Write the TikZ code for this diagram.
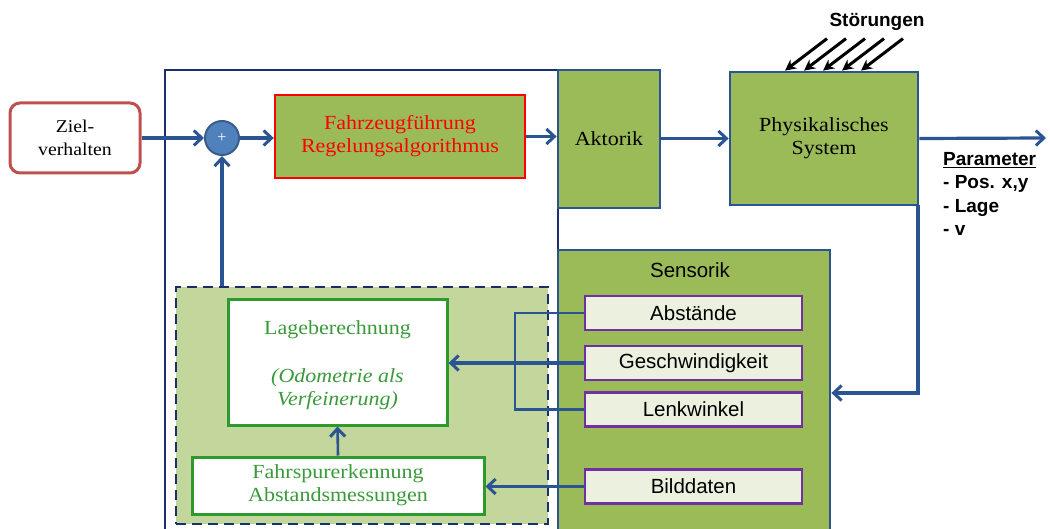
\documentclass[tikz,border=0pt]{standalone}
\usepackage{fontspec}
\setmainfont{Liberation Serif}
\newfontfamily\serifst[FakeStretch=1.1]{Liberation Serif}
\newfontfamily\sansf{Liberation Sans}
\usetikzlibrary{arrows.meta}
\definecolor{cline}{HTML}{2B5592}
\definecolor{navy}{HTML}{1A2F6B}
\definecolor{boxgreen}{HTML}{9BBB59}
\definecolor{lightgreen}{HTML}{C3D69B}
\definecolor{sensfill}{HTML}{EBF1DE}
\definecolor{purp}{HTML}{7030A0}
\definecolor{lgreen}{HTML}{2E9A2E}
\definecolor{ltext}{HTML}{3A9A3A}
\definecolor{zielred}{HTML}{C0504D}
\definecolor{circfill}{HTML}{4F81BD}
\definecolor{circdraw}{HTML}{385D8A}
\tikzset{
  conn/.style={draw=cline, line width=3.2pt, -{Straight Barb[length=8pt,width=15pt,line width=3pt]}},
  thinconn/.style={draw=cline, line width=2.6pt},
  greenbox/.style={draw=cline, line width=2.8pt, fill=boxgreen, inner sep=0pt, align=center, font=\serifst\fontsize{20}{23}\selectfont},
  sensbox/.style={draw=purp, line width=2.6pt, fill=sensfill, minimum width=217pt, minimum height=34pt, inner sep=0pt, font=\sansf\fontsize{20.5}{24}\selectfont},
  whitebox/.style={draw=lgreen, line width=3pt, fill=white, inner sep=0pt, align=center, text=ltext, font=\serifst\fontsize{20}{23}\selectfont},
  distarrow/.style={draw=black, line width=3pt, -{Stealth[length=11pt,width=11pt]}},
  boldlbl/.style={font=\sansf\bfseries\fontsize{19}{23.5}\selectfont, inner sep=0pt}
}
\begin{document}
\begin{tikzpicture}[x=1pt,y=-1pt]
\useasboundingbox (0,0) rectangle (1050,529);
\clip (0,0) rectangle (1050,529);
% outer frame
\draw[navy, line width=2.2pt] (558,70) -- (165,70) -- (165,560) -- (558,560) -- cycle;
% dashed area
\node[draw=navy, dash pattern=on 10pt off 6pt, line width=2.8pt, fill=lightgreen, minimum width=372pt, minimum height=237pt, inner sep=0pt] (dash) at (362,405.5) {};
% boxes
\node[draw=zielred, line width=3pt, rounded corners=10pt, fill=white, minimum width=130pt, minimum height=70pt, align=center, font=\serifst\fontsize{18}{23}\selectfont] (ziel) at (75,138) {Ziel-\\verhalten};
\node[circle, draw=circdraw, line width=2pt, fill=circfill, minimum size=34pt, inner sep=0pt, text=white, font=\fontsize{16}{16}\selectfont] (sum) at (222,138) {+};
\node[greenbox, draw=red, line width=2.4pt, text=red, minimum width=250pt, minimum height=83pt] (fz) at (400,136.5) {Fahrzeugführung\\Regelungsalgorithmus};
\node[greenbox, minimum width=102pt, minimum height=138pt] (akt) at (609,139) {Aktorik};
\node[greenbox, minimum width=188pt, minimum height=133pt] (phys) at (824,138.5) {Physikalisches\\System};
\node[greenbox, minimum width=272pt, minimum height=300pt] (sens) at (694,400) {};
\node[font=\sansf\fontsize{20.5}{24}\selectfont, inner sep=0pt] (senstitle) at (690,270) {Sensorik};
\node[sensbox] (abst) at (693.5,313) {Abstände};
\node[sensbox] (gesch) at (693.5,363) {Geschwindigkeit};
\node[sensbox] (lenk) at (693.5,409.5) {Lenkwinkel};
\node[sensbox] (bild) at (693.5,486.5) {Bilddaten};
\node[whitebox, minimum width=219pt, minimum height=125pt] (lage) at (337.5,362.5) {};
\node[text=ltext, font=\serifst\fontsize{20}{23}\selectfont, inner sep=0pt] (lagetxt) at (337.5,330) {Lageberechnung};
\node[text=ltext, font=\serifst\itshape\fontsize{20}{23}\selectfont, inner sep=0pt, align=center] (odo) at (337.5,389) {(Odometrie als\\Verfeinerung)};
\node[whitebox, minimum width=292pt, minimum height=57pt] (fahr) at (338,485.5) {Fahrspurerkennung\\Abstandsmessungen};
% labels
\node[boldlbl] (stoer) at (877,22) {Störungen};
\node[boldlbl, anchor=north west, align=left] (param) at (943,152) {\underline{Parameter}\\- Pos. x,y\\- Lage\\- v};
% coordinates
\coordinate (out) at (1046,138);
\coordinate (fbtop) at (918,205);
\coordinate (fb) at (918,393);
\coordinate (brk) at (515,313);
% connectors
\draw[conn] (ziel.east) -- (sum.west);
\draw[conn] (sum.east) -- (fz.west |- sum.east);
\draw[conn] (fz.east) -- (akt.west |- fz.east);
\draw[conn] (akt.east |- phys.west) -- (phys.west);
\draw[conn] (phys.east) -- (out);
\draw[conn] (fbtop) -- (fb) -- (fb -| sens.east);
\draw[conn] (sum.south |- dash.north) -- (sum.south);
\draw[conn] (gesch.west) -- (lage.east |- gesch.west);
\draw[thinconn] (abst.west) -- (brk) |- (lenk.west);
\draw[conn, line width=2.6pt] (bild.west) -- (fahr.east |- bild.west);
\draw[conn, line width=2.6pt] (fahr.north) -- (lage.south);
% disturbances
\foreach \i/\dx in {1/-39,2/-20,3/-1,4/18,5/37}{
  \coordinate (d\i) at ([xshift=\dx pt]phys.north);
  \draw[distarrow] ([xshift=42pt,yshift=32pt]d\i) -- (d\i);
}
\end{tikzpicture}
\end{document}
